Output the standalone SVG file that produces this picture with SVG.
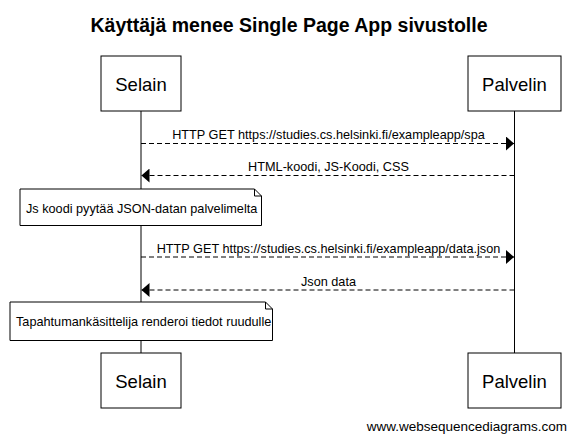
<svg xmlns="http://www.w3.org/2000/svg" width="575" height="440" viewBox="0 0 575 440">
  <style>
    text { font-family: "Liberation Sans", Arial, sans-serif; fill: #000; }
    .title { font-size: 19.5px; font-weight: bold; text-anchor: middle; }
    .actor { fill: #fff; stroke: #000; stroke-width: 1; }
    .aname { font-size: 18.5px; text-anchor: middle; }
    .life { stroke: #000; stroke-width: 1; }
    .msg { stroke: #000; stroke-width: 1; stroke-dasharray: 5 3; fill: none; }
    .mlabel { font-size: 12.7px; text-anchor: middle; }
    .note { fill: #fff; stroke: #000; stroke-width: 1; }
    .nlabel { font-size: 12.7px; }
    .wm { font-size: 13.5px; text-anchor: end; fill: #000; }
  </style>
  <defs>
    <marker id="ah" viewBox="0 0 8 14" refX="8" refY="7" markerWidth="8" markerHeight="14" markerUnits="userSpaceOnUse" orient="auto">
      <path d="M0,0 L8,7 L0,14 Z" fill="#000"/>
    </marker>
  </defs>
  <rect width="575" height="440" fill="#fff"/>
  <text class="title" x="289" y="32">Käyttäjä menee Single Page App sivustolle</text>

  <g id="lifelines">
    <line class="life" x1="141" y1="111" x2="141" y2="353"/>
    <line class="life" x1="514.5" y1="111" x2="514.5" y2="353"/>
  </g>

  <g id="selain-top">
    <rect class="actor" x="101" y="56" width="80" height="55"/>
    <text class="aname" x="141" y="90.5">Selain</text>
  </g>
  <g id="palvelin-top">
    <rect class="actor" x="468" y="56" width="93" height="55"/>
    <text class="aname" x="514.5" y="90.5">Palvelin</text>
  </g>

  <g id="connectors">
    <line class="msg" x1="141" y1="143.5" x2="514" y2="143.5" marker-end="url(#ah)"/>
    <text class="mlabel" x="328.5" y="139">HTTP GET https://studies.cs.helsinki.fi/exampleapp/spa</text>
    <line class="msg" x1="514.5" y1="175.5" x2="141.5" y2="175.5" marker-end="url(#ah)"/>
    <text class="mlabel" x="328.5" y="171">HTML-koodi, JS-Koodi, CSS</text>
    <line class="msg" x1="141" y1="257" x2="514" y2="257" marker-end="url(#ah)"/>
    <text class="mlabel" x="328.5" y="252.5">HTTP GET https://studies.cs.helsinki.fi/exampleapp/data.json</text>
    <line class="msg" x1="514.5" y1="290" x2="141.5" y2="290" marker-end="url(#ah)"/>
    <text class="mlabel" x="328.5" y="285.5">Json data</text>
  </g>

  <g id="note1">
    <path class="note" d="M20,189 H254.5 L261.5,196 V225.5 H20 Z"/>
    <path d="M254.5,189 V196 H261.5" fill="none" stroke="#000" stroke-width="1"/>
    <text class="nlabel" x="26" y="212.5">Js koodi pyytää JSON-datan palvelimelta</text>
  </g>

  <g id="note2">
    <path class="note" d="M10,302 H265.5 L272.5,309 V340.5 H10 Z"/>
    <path d="M265.5,302 V309 H272.5" fill="none" stroke="#000" stroke-width="1"/>
    <text class="nlabel" x="16" y="326">Tapahtumankäsittelija renderoi tiedot ruudulle</text>
  </g>

  <g id="selain-bottom">
    <rect class="actor" x="101" y="353" width="80" height="55"/>
    <text class="aname" x="141" y="387.5">Selain</text>
  </g>
  <g id="palvelin-bottom">
    <rect class="actor" x="468" y="353" width="93" height="55"/>
    <text class="aname" x="514.5" y="387.5">Palvelin</text>
  </g>

  <text class="wm" x="567" y="431">www.websequencediagrams.com</text>
</svg>
